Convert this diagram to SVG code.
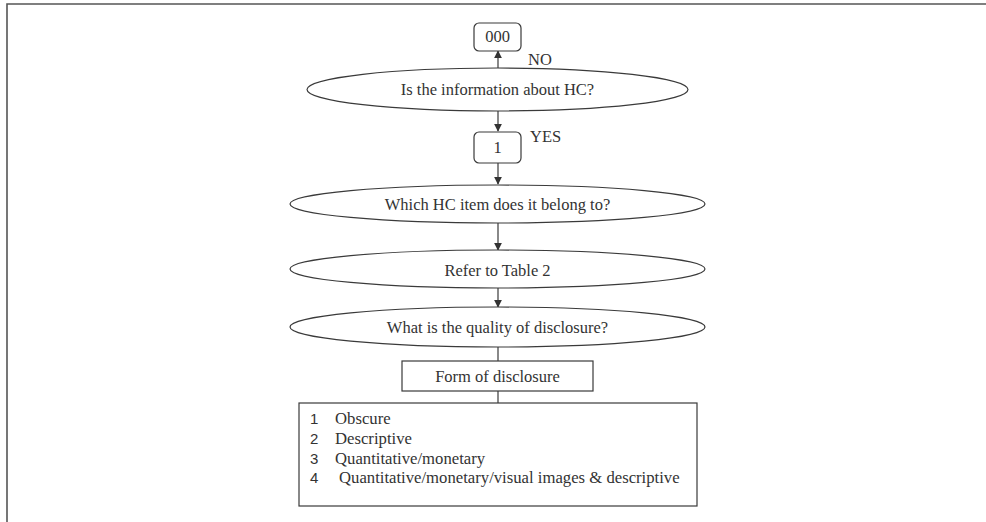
<svg xmlns="http://www.w3.org/2000/svg" width="986" height="522" viewBox="0 0 986 522">
<defs>
<style>
.sh{fill:#fff;stroke:#3a3a3a;stroke-width:1.2}
.t{font-family:"Liberation Serif","Times New Roman",serif;font-size:16.5px;fill:#333}
.l{font-family:"Liberation Serif","Times New Roman",serif;font-size:16.7px;fill:#333}
.n{font-family:"Liberation Sans",Arial,sans-serif;font-size:15px;fill:#333}
.c{stroke:#3a3a3a;stroke-width:1.2;fill:none}
</style>
<marker id="ah" viewBox="0 0 10 10" refX="9" refY="5" markerWidth="8" markerHeight="8" orient="auto" markerUnits="userSpaceOnUse">
<path d="M0,0 L10,5 L0,10 z" fill="#333"/>
</marker>
</defs>
<rect width="986" height="522" fill="#fff"/>
<path d="M7,522 V4 H986" fill="none" stroke="#555" stroke-width="1.6"/>
<g id="connectors">
<line class="c" x1="498" y1="68" x2="498" y2="51" marker-end="url(#ah)"/>
<line class="c" x1="498" y1="111" x2="498" y2="131" marker-end="url(#ah)"/>
<line class="c" x1="498" y1="163" x2="498" y2="184" marker-end="url(#ah)"/>
<line class="c" x1="498" y1="223" x2="498" y2="250" marker-end="url(#ah)"/>
<line class="c" x1="498" y1="288" x2="498" y2="307" marker-end="url(#ah)"/>
<line class="c" x1="498" y1="347" x2="498" y2="361"/>
<line class="c" x1="498" y1="391" x2="498" y2="403"/>
</g>
<g id="n000">
<rect class="sh" x="474" y="23" width="47" height="28" rx="5"/>
<text class="t" x="497.5" y="42" text-anchor="middle">000</text>
</g>
<text class="t" x="528" y="65">NO</text>
<g id="q1">
<ellipse class="sh" cx="497.5" cy="89.5" rx="190.5" ry="21.5"/>
<text class="t" x="497.5" y="95" text-anchor="middle">Is the information about HC?</text>
</g>
<g id="n1">
<rect class="sh" x="474" y="132" width="47" height="31" rx="5"/>
<text class="t" x="497.5" y="153" text-anchor="middle">1</text>
</g>
<text class="t" x="530" y="142">YES</text>
<g id="q2">
<ellipse class="sh" cx="497.5" cy="204" rx="207.5" ry="19"/>
<text class="t" x="497.5" y="209.5" text-anchor="middle">Which HC item does it belong to?</text>
</g>
<g id="q3">
<ellipse class="sh" cx="497.5" cy="269" rx="207.5" ry="19"/>
<text class="t" x="497.5" y="276" text-anchor="middle">Refer to Table 2</text>
</g>
<g id="q4">
<ellipse class="sh" cx="497.5" cy="327" rx="207.5" ry="20"/>
<text class="t" x="497.5" y="333" text-anchor="middle">What is the quality of disclosure?</text>
</g>
<g id="form">
<rect class="sh" x="402" y="361" width="191" height="30"/>
<text class="t" x="497.5" y="382" text-anchor="middle">Form of disclosure</text>
</g>
<g id="list">
<rect class="sh" x="299" y="403" width="398" height="103"/>
<text class="n" x="310" y="424">1</text><text class="l" x="335" y="424">Obscure</text>
<text class="n" x="310" y="444">2</text><text class="l" x="335" y="444">Descriptive</text>
<text class="n" x="310" y="464">3</text><text class="l" x="335" y="464">Quantitative/monetary</text>
<text class="n" x="310" y="483">4</text><text class="l" x="339" y="483">Quantitative/monetary/visual images &amp; descriptive</text>
</g>
</svg>
